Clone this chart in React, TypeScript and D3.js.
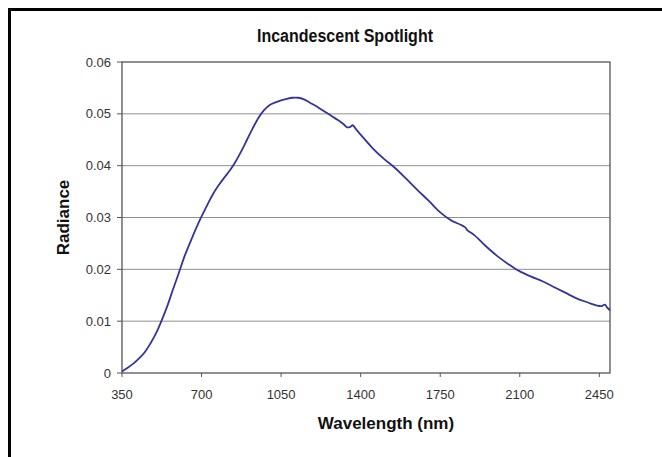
import React from "react";
import * as d3 from "d3";

const wavelengths = [350, 375, 400, 425, 450, 475, 500, 525, 550, 575, 600, 625, 650, 675, 700, 725, 750, 775, 800, 825, 850, 875, 900, 925, 950, 975, 1000, 1025, 1050, 1075, 1100, 1125, 1150, 1175, 1200, 1225, 1250, 1275, 1300, 1325, 1340, 1355, 1365, 1380, 1400, 1450, 1500, 1550, 1600, 1650, 1700, 1750, 1800, 1840, 1860, 1870, 1880, 1900, 1950, 2000, 2050, 2100, 2150, 2200, 2250, 2300, 2350, 2400, 2440, 2460, 2475, 2485, 2497];
const radiance = [0.0003, 0.001, 0.0018, 0.0028, 0.004, 0.0057, 0.0077, 0.0102, 0.013, 0.0162, 0.0193, 0.0225, 0.0252, 0.0278, 0.0302, 0.0324, 0.0345, 0.0362, 0.0377, 0.0391, 0.0408, 0.0428, 0.045, 0.0472, 0.0492, 0.0507, 0.0517, 0.0522, 0.0526, 0.0529, 0.0531, 0.0531, 0.0528, 0.0522, 0.0516, 0.0509, 0.0502, 0.0495, 0.0488, 0.048, 0.0474, 0.0475, 0.0478, 0.047, 0.046, 0.0435, 0.0414, 0.0396, 0.0375, 0.0353, 0.0332, 0.031, 0.0294, 0.0286, 0.0281, 0.0275, 0.0272, 0.0266, 0.0245, 0.0226, 0.021, 0.0196, 0.0186, 0.0177, 0.0166, 0.0155, 0.0144, 0.0136, 0.013, 0.0129, 0.0132, 0.0126, 0.0121];
const xTicks = [350, 700, 1050, 1400, 1750, 2100, 2450];
const yTicks = [0, 0.01, 0.02, 0.03, 0.04, 0.05, 0.06];
const yTickLabels = ["0", "0.01", "0.02", "0.03", "0.04", "0.05", "0.06"];

const W = 662;
const H = 457;
const M = { left: 122, right: 610, top: 62, bottom: 373 };

export default function App() {
  const x = d3.scaleLinear().domain([350, 2497]).range([M.left, M.right]);
  const y = d3.scaleLinear().domain([0, 0.06]).range([M.bottom, M.top]);
  const pts = wavelengths.map((w, i) => [w, radiance[i]] as [number, number]);
  const line = d3
    .line<[number, number]>()
    .x((d) => x(d[0]))
    .y((d) => y(d[1]))
    .curve(d3.curveCatmullRom.alpha(0.5));
  const font = "Arial, 'Liberation Sans', sans-serif";
  return (
    <svg
      width={W}
      height={H}
      style={{ position: "absolute", left: 0, top: 0, background: "#fff" }}
    >
      <rect x={0} y={0} width={W} height={H} fill="#fff" />
      <rect x={9.5} y={9.5} width={720} height={520} fill="none" stroke="#000" strokeWidth={3} />
      <text x={345} y={42} textAnchor="middle" fontFamily={font} fontWeight="bold" fontSize={18} textLength={176} lengthAdjust="spacingAndGlyphs" fill="#111">
        Incandescent Spotlight
      </text>
      {yTicks.slice(1, 6).map((t) => (
        <line key={"g" + t} x1={M.left} x2={M.right} y1={y(t)} y2={y(t)} stroke="#8f8f8f" strokeWidth={1} />
      ))}
      <rect x={M.left} y={M.top} width={M.right - M.left} height={M.bottom - M.top} fill="none" stroke="#555" strokeWidth={1.3} />
      {yTicks.map((t, i) => (
        <g key={"y" + t}>
          <line x1={M.left - 5} x2={M.left} y1={y(t)} y2={y(t)} stroke="#555" strokeWidth={1} />
          <text x={M.left - 11} y={y(t)} dy="0.35em" textAnchor="end" fontFamily={font} fontSize={13} fill="#333">
            {yTickLabels[i]}
          </text>
        </g>
      ))}
      {xTicks.map((t) => (
        <g key={"x" + t}>
          <line x1={x(t)} x2={x(t)} y1={M.bottom} y2={M.bottom + 4} stroke="#555" strokeWidth={1} />
          <text x={x(t)} y={M.bottom + 21} dy="0.35em" textAnchor="middle" fontFamily={font} fontSize={13} fill="#333">
            {t}
          </text>
        </g>
      ))}
      <path d={line(pts) || ""} fill="none" stroke="#34349a" strokeWidth={1.8} />
      <text x={386} y={423} dy="0.35em" textAnchor="middle" fontFamily={font} fontWeight="bold" fontSize={17} fill="#111">
        Wavelength (nm)
      </text>
      <text
        transform={`translate(63,${(M.top + M.bottom) / 2}) rotate(-90)`}
        dy="0.35em"
        textAnchor="middle"
        fontFamily={font}
        fontWeight="bold"
        fontSize={17}
        fill="#111"
      >
        Radiance
      </text>
    </svg>
  );
}
